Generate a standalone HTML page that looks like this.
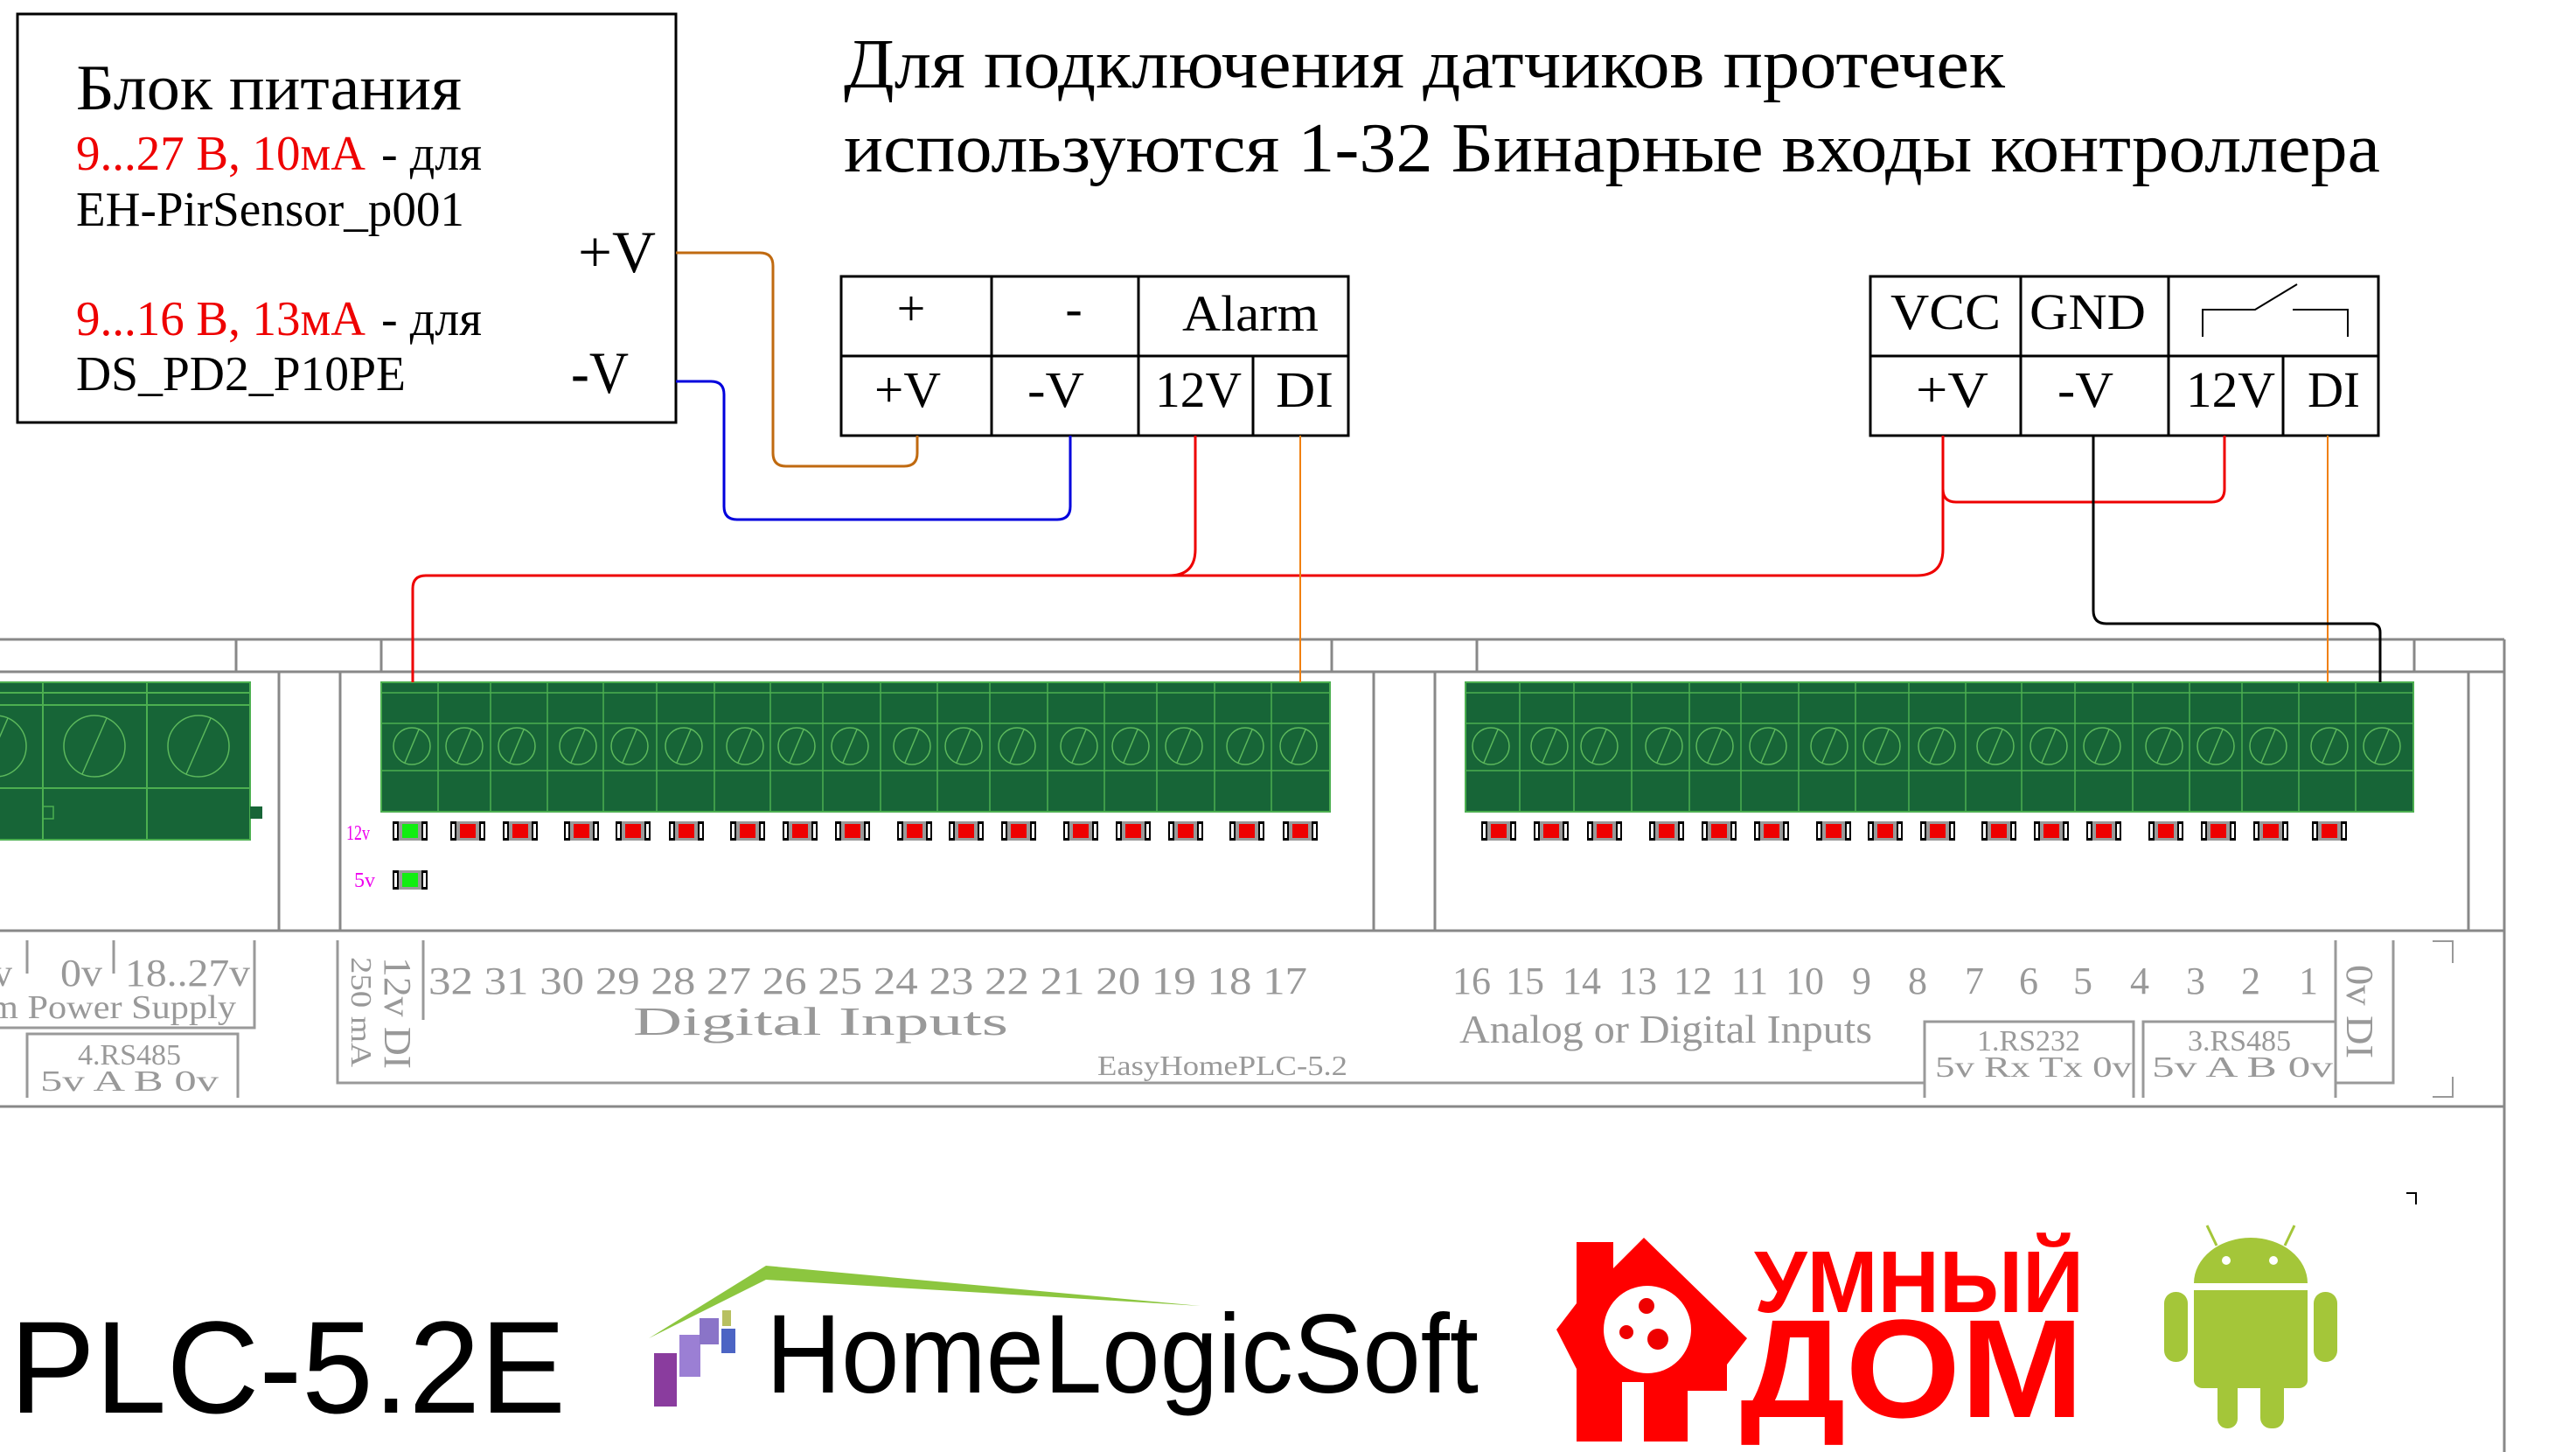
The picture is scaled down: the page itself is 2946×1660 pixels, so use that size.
<!DOCTYPE html>
<html><head><meta charset="utf-8"><style>
html,body{margin:0;padding:0;background:#fff;}
svg{display:block;}
.s{font-family:"Liberation Serif","Noto Serif CJK SC",serif;}
.g{fill:#999;}
</style></head><body>
<svg width="2946" height="1660" viewBox="0 0 2946 1660" xmlns="http://www.w3.org/2000/svg">
<defs>
<g id="scr"><circle r="21" fill="none" stroke="#5cb85c" stroke-width="1.5"/><line x1="-8" y1="19" x2="8" y2="-19" stroke="#5cb85c" stroke-width="1.5"/></g>
<g id="scrL"><circle r="35" fill="none" stroke="#5cb85c" stroke-width="1.5"/><line x1="-14" y1="32" x2="14" y2="-32" stroke="#5cb85c" stroke-width="1.5"/></g>
<g id="led"><rect x="-20" y="-11" width="40" height="22" fill="#999"/><rect x="-20" y="-11" width="7" height="22" fill="#000"/><rect x="-18" y="-8" width="3" height="16" fill="#fff"/><rect x="13" y="-11" width="7" height="22" fill="#000"/><rect x="15" y="-8" width="3" height="16" fill="#fff"/><rect x="-9" y="-8" width="18" height="16" fill="#e00"/></g>
<g id="ledg"><rect x="-20" y="-11" width="40" height="22" fill="#999"/><rect x="-20" y="-11" width="7" height="22" fill="#000"/><rect x="-18" y="-8" width="3" height="16" fill="#fff"/><rect x="13" y="-11" width="7" height="22" fill="#000"/><rect x="15" y="-8" width="3" height="16" fill="#fff"/><rect x="-9" y="-8" width="18" height="16" fill="#1e1"/></g>
</defs>

<!-- Title -->
<text class="s" x="965" y="100" font-size="80" textLength="1328" lengthAdjust="spacingAndGlyphs">Для подключения датчиков протечек</text>
<text class="s" x="965" y="196" font-size="80" textLength="1757" lengthAdjust="spacingAndGlyphs">используются 1-32 Бинарные входы контроллера</text>

<!-- Power box -->
<rect x="20" y="16" width="753" height="467" fill="none" stroke="#000" stroke-width="3"/>
<text class="s" x="87" y="125" font-size="74" textLength="441" lengthAdjust="spacingAndGlyphs">Блок питания</text>
<text class="s" x="87" y="194" font-size="56" fill="#e00" textLength="331" lengthAdjust="spacingAndGlyphs">9...27 В, 10мА</text>
<text class="s" x="436" y="194" font-size="56" textLength="115" lengthAdjust="spacingAndGlyphs">- для</text>
<text class="s" x="87" y="258" font-size="56" textLength="444" lengthAdjust="spacingAndGlyphs">EH-PirSensor_p001</text>
<text class="s" x="661" y="311" font-size="68" textLength="89" lengthAdjust="spacingAndGlyphs">+V</text>
<text class="s" x="87" y="383" font-size="56" fill="#e00" textLength="331" lengthAdjust="spacingAndGlyphs">9...16 В, 13мА</text>
<text class="s" x="436" y="383" font-size="56" textLength="115" lengthAdjust="spacingAndGlyphs">- для</text>
<text class="s" x="87" y="446" font-size="56" textLength="377" lengthAdjust="spacingAndGlyphs">DS_PD2_P10PE</text>
<text class="s" x="653" y="449" font-size="68" textLength="66" lengthAdjust="spacingAndGlyphs">-V</text>

<!-- Alarm table -->
<g fill="none" stroke="#000" stroke-width="3">
<rect x="962" y="316" width="580" height="182"/>
<line x1="962" y1="407" x2="1542" y2="407"/>
<line x1="1134" y1="316" x2="1134" y2="498"/>
<line x1="1302" y1="316" x2="1302" y2="498"/>
<line x1="1433" y1="407" x2="1433" y2="498"/>
<rect x="2139" y="316" width="581" height="182"/>
<line x1="2139" y1="407" x2="2720" y2="407"/>
<line x1="2311" y1="316" x2="2311" y2="498"/>
<line x1="2480" y1="316" x2="2480" y2="498"/>
<line x1="2611" y1="407" x2="2611" y2="498"/>
</g>
<g fill="none" stroke="#000" stroke-width="2">
<polyline points="2519,385 2519,354 2579,354 2627,325"/>
<polyline points="2622,354 2685,354 2685,385"/>
</g>
<g class="s" font-size="58">
<text x="1042" y="372" text-anchor="middle">+</text>
<text x="1228" y="372" text-anchor="middle">-</text>
<text x="1352" y="378" textLength="156" lengthAdjust="spacingAndGlyphs">Alarm</text>
<text x="1000" y="465" textLength="76" lengthAdjust="spacingAndGlyphs">+V</text>
<text x="1175" y="465" textLength="65" lengthAdjust="spacingAndGlyphs">-V</text>
<text x="1321" y="465" textLength="99" lengthAdjust="spacingAndGlyphs">12V</text>
<text x="1459" y="465" textLength="66" lengthAdjust="spacingAndGlyphs">DI</text>
<text x="2162" y="376" textLength="126" lengthAdjust="spacingAndGlyphs">VCC</text>
<text x="2321" y="376" textLength="133" lengthAdjust="spacingAndGlyphs">GND</text>
<text x="2191" y="465" textLength="83" lengthAdjust="spacingAndGlyphs">+V</text>
<text x="2353" y="465" textLength="64" lengthAdjust="spacingAndGlyphs">-V</text>
<text x="2500" y="465" textLength="102" lengthAdjust="spacingAndGlyphs">12V</text>
<text x="2639" y="465" textLength="60" lengthAdjust="spacingAndGlyphs">DI</text>
</g>

<!-- Board outline -->
<g stroke="#888" stroke-width="3" fill="none">
<line x1="0" y1="731" x2="2864" y2="731"/>
<line x1="2864" y1="731" x2="2864" y2="1660"/>
<line x1="0" y1="768" x2="2864" y2="768"/>
<line x1="0" y1="1064" x2="2864" y2="1064"/>
<line x1="0" y1="1265" x2="2864" y2="1265"/>
<line x1="270" y1="731" x2="270" y2="768"/>
<line x1="436" y1="731" x2="436" y2="768"/>
<line x1="1523" y1="731" x2="1523" y2="768"/>
<line x1="1689" y1="731" x2="1689" y2="768"/>
<line x1="2761" y1="731" x2="2761" y2="768"/>
<line x1="319" y1="768" x2="319" y2="1064"/>
<line x1="389" y1="768" x2="389" y2="1064"/>
<line x1="1571" y1="768" x2="1571" y2="1064"/>
<line x1="1641" y1="768" x2="1641" y2="1064"/>
<line x1="2823" y1="768" x2="2823" y2="1064"/>
</g>

<!-- Left green block -->
<rect x="-5" y="780" width="291" height="180" fill="#176537" stroke="#4caf50" stroke-width="2"/>
<rect x="286" y="922" width="14" height="14" fill="#176537"/>
<rect x="49" y="922" width="12" height="14" fill="none" stroke="#4caf50" stroke-width="1.5"/>
<g stroke="#4caf50" stroke-width="2">
<line x1="0" y1="792" x2="286" y2="792"/><line x1="0" y1="806" x2="286" y2="806"/><line x1="0" y1="901" x2="286" y2="901"/>
<line x1="49" y1="780" x2="49" y2="960"/><line x1="168" y1="780" x2="168" y2="960"/>
</g>
<use href="#scrL" x="-5" y="853"/><use href="#scrL" x="108" y="853"/><use href="#scrL" x="227" y="853"/>

<!-- Middle green block -->
<rect x="436" y="780" width="1085" height="148" fill="#176537" stroke="#4caf50" stroke-width="2"/>
<g stroke="#4caf50" stroke-width="1.5">
<line x1="436" y1="792" x2="1521" y2="792"/><line x1="436" y1="827" x2="1521" y2="827"/><line x1="436" y1="881" x2="1521" y2="881"/>
<line x1="501" y1="780" x2="501" y2="928"/><line x1="561" y1="780" x2="561" y2="928"/><line x1="626" y1="780" x2="626" y2="928"/><line x1="690" y1="780" x2="690" y2="928"/><line x1="751" y1="780" x2="751" y2="928"/><line x1="817" y1="780" x2="817" y2="928"/><line x1="881" y1="780" x2="881" y2="928"/><line x1="941" y1="780" x2="941" y2="928"/><line x1="1007" y1="780" x2="1007" y2="928"/><line x1="1072" y1="780" x2="1072" y2="928"/><line x1="1132" y1="780" x2="1132" y2="928"/><line x1="1198" y1="780" x2="1198" y2="928"/><line x1="1263" y1="780" x2="1263" y2="928"/><line x1="1323" y1="780" x2="1323" y2="928"/><line x1="1389" y1="780" x2="1389" y2="928"/><line x1="1454" y1="780" x2="1454" y2="928"/>
</g>
<g>
<use href="#scr" x="471" y="853"/><use href="#scr" x="531" y="853"/><use href="#scr" x="591" y="853"/><use href="#scr" x="661" y="853"/><use href="#scr" x="720" y="853"/><use href="#scr" x="782" y="853"/><use href="#scr" x="852" y="853"/><use href="#scr" x="911" y="853"/><use href="#scr" x="972" y="853"/><use href="#scr" x="1043" y="853"/><use href="#scr" x="1102" y="853"/><use href="#scr" x="1163" y="853"/><use href="#scr" x="1234" y="853"/><use href="#scr" x="1293" y="853"/><use href="#scr" x="1354" y="853"/><use href="#scr" x="1424" y="853"/><use href="#scr" x="1485" y="853"/>
</g>
<g>
<use href="#ledg" x="469" y="950"/><use href="#led" x="535" y="950"/><use href="#led" x="595" y="950"/><use href="#led" x="665" y="950"/><use href="#led" x="724" y="950"/><use href="#led" x="785" y="950"/><use href="#led" x="855" y="950"/><use href="#led" x="915" y="950"/><use href="#led" x="975" y="950"/><use href="#led" x="1046" y="950"/><use href="#led" x="1105" y="950"/><use href="#led" x="1165" y="950"/><use href="#led" x="1236" y="950"/><use href="#led" x="1296" y="950"/><use href="#led" x="1356" y="950"/><use href="#led" x="1426" y="950"/><use href="#led" x="1487" y="950"/>
<use href="#ledg" x="469" y="1006"/>
</g>
<text class="s" x="396" y="960" font-size="24" fill="#e0e" textLength="27" lengthAdjust="spacingAndGlyphs">12v</text>
<text class="s" x="405" y="1014" font-size="24" fill="#e0e">5v</text>

<!-- Right green block -->
<rect x="1676" y="780" width="1084" height="148" fill="#176537" stroke="#4caf50" stroke-width="2"/>
<g stroke="#4caf50" stroke-width="1.5">
<line x1="1676" y1="792" x2="2760" y2="792"/><line x1="1676" y1="827" x2="2760" y2="827"/><line x1="1676" y1="881" x2="2760" y2="881"/>
<line x1="1738" y1="780" x2="1738" y2="928"/><line x1="1800" y1="780" x2="1800" y2="928"/><line x1="1866" y1="780" x2="1866" y2="928"/><line x1="1932" y1="780" x2="1932" y2="928"/><line x1="1991" y1="780" x2="1991" y2="928"/><line x1="2057" y1="780" x2="2057" y2="928"/><line x1="2122" y1="780" x2="2122" y2="928"/><line x1="2183" y1="780" x2="2183" y2="928"/><line x1="2248" y1="780" x2="2248" y2="928"/><line x1="2312" y1="780" x2="2312" y2="928"/><line x1="2373" y1="780" x2="2373" y2="928"/><line x1="2439" y1="780" x2="2439" y2="928"/><line x1="2504" y1="780" x2="2504" y2="928"/><line x1="2564" y1="780" x2="2564" y2="928"/><line x1="2629" y1="780" x2="2629" y2="928"/><line x1="2694" y1="780" x2="2694" y2="928"/>
</g>
<g>
<use href="#scr" x="1705" y="853"/><use href="#scr" x="1772" y="853"/><use href="#scr" x="1829" y="853"/><use href="#scr" x="1903" y="853"/><use href="#scr" x="1961" y="853"/><use href="#scr" x="2022" y="853"/><use href="#scr" x="2092" y="853"/><use href="#scr" x="2152" y="853"/><use href="#scr" x="2215" y="853"/><use href="#scr" x="2282" y="853"/><use href="#scr" x="2343" y="853"/><use href="#scr" x="2404" y="853"/><use href="#scr" x="2475" y="853"/><use href="#scr" x="2534" y="853"/><use href="#scr" x="2594" y="853"/><use href="#scr" x="2664" y="853"/><use href="#scr" x="2724" y="853"/>
</g>
<g>
<use href="#led" x="1714" y="950"/><use href="#led" x="1774" y="950"/><use href="#led" x="1835" y="950"/><use href="#led" x="1906" y="950"/><use href="#led" x="1966" y="950"/><use href="#led" x="2026" y="950"/><use href="#led" x="2097" y="950"/><use href="#led" x="2156" y="950"/><use href="#led" x="2216" y="950"/><use href="#led" x="2286" y="950"/><use href="#led" x="2346" y="950"/><use href="#led" x="2406" y="950"/><use href="#led" x="2477" y="950"/><use href="#led" x="2537" y="950"/><use href="#led" x="2597" y="950"/><use href="#led" x="2664" y="950"/>
</g>

<!-- Wires -->
<g fill="none" stroke-linejoin="round">
<path d="M773,289 H869 Q884,289 884,304 V518 Q884,533 899,533 H1034 Q1049,533 1049,518 V498" stroke="#c06a10" stroke-width="3"/>
<path d="M773,436 H813 Q828,436 828,451 V579 Q828,594 843,594 H1209 Q1224,594 1224,579 V498" stroke="#0000dd" stroke-width="3"/>
<path d="M1367,498 V628 Q1367,658 1337,658 H487 Q472,658 472,673 V780" stroke="#e00" stroke-width="3"/>
<path d="M2222,498 V628 Q2222,658 2192,658 H1337" stroke="#e00" stroke-width="3"/>
<path d="M2544,498 V559 Q2544,574 2529,574 H2237 Q2222,574 2222,559" stroke="#e00" stroke-width="3"/>
<path d="M1487,498 V780" stroke="#f08010" stroke-width="2"/>
<path d="M2662,498 V780" stroke="#f08010" stroke-width="2"/>
<path d="M2394,498 V698 Q2394,713 2409,713 H2712 Q2722,713 2722,723 V780" stroke="#000" stroke-width="3"/>
</g>

<!-- Label area -->
<g stroke="#999" stroke-width="3" fill="none">
<polyline points="386,1075 386,1238 2201,1238"/>
<line x1="484" y1="1075" x2="484" y2="1166"/>
<polyline points="2201,1255 2201,1168 2440,1168 2440,1255"/>
<polyline points="2451,1255 2451,1168 2671,1168 2671,1255"/>
<line x1="2671" y1="1075" x2="2671" y2="1255"/>
<polyline points="2737,1075 2737,1238 2671,1238"/>
<line x1="31" y1="1075" x2="31" y2="1113"/>
<line x1="130" y1="1075" x2="130" y2="1113"/>
<polyline points="291,1075 291,1175 0,1175"/>
<polyline points="31,1255 31,1182 272,1182 272,1255"/>
<polyline points="2782,1076 2805,1076 2805,1101" stroke-width="2"/>
<polyline points="2805,1231 2805,1254 2782,1254" stroke-width="2"/>
<polyline points="2752,1364 2763,1364 2763,1377" stroke="#000" stroke-width="2"/>
</g>
<g class="s g">
<text x="-8" y="1127" font-size="44">v</text>
<text x="69" y="1127" font-size="44" textLength="48" lengthAdjust="spacingAndGlyphs">0v</text>
<text x="143" y="1127" font-size="44" textLength="143" lengthAdjust="spacingAndGlyphs">18..27v</text>
<text x="-12" y="1164" font-size="38" textLength="282" lengthAdjust="spacingAndGlyphs">m Power Supply</text>
<text x="148" y="1217" font-size="34" text-anchor="middle">4.RS485</text>
<text x="46" y="1247" font-size="34" textLength="204" lengthAdjust="spacingAndGlyphs">5v  A  B  0v</text>
<text transform="translate(440,1094) rotate(90)" font-size="44" textLength="128" lengthAdjust="spacingAndGlyphs">12v DI</text>
<text transform="translate(402,1094) rotate(90)" font-size="34" textLength="126" lengthAdjust="spacingAndGlyphs">250 mA</text>
<text x="490" y="1136" font-size="44" textLength="1005" lengthAdjust="spacingAndGlyphs">32 31 30 29 28 27 26 25 24 23 22 21 20 19 18 17</text>
<text x="724" y="1183" font-size="46" textLength="429" lengthAdjust="spacingAndGlyphs">Digital  Inputs</text>
<text x="1255" y="1229" font-size="32" textLength="286" lengthAdjust="spacingAndGlyphs">EasyHomePLC-5.2</text>
<g font-size="44" text-anchor="middle">
<text x="1683" y="1136">16</text><text x="1744" y="1136">15</text><text x="1809" y="1136">14</text><text x="1873" y="1136">13</text><text x="1936" y="1136">12</text><text x="2001" y="1136">11</text><text x="2064" y="1136">10</text><text x="2129" y="1136">9</text><text x="2193" y="1136">8</text><text x="2258" y="1136">7</text><text x="2320" y="1136">6</text><text x="2382" y="1136">5</text><text x="2447" y="1136">4</text><text x="2511" y="1136">3</text><text x="2574" y="1136">2</text><text x="2640" y="1136">1</text>
</g>
<text x="1669" y="1192" font-size="46" textLength="472" lengthAdjust="spacingAndGlyphs">Analog or Digital Inputs</text>
<text x="2320" y="1201" font-size="34" text-anchor="middle">1.RS232</text>
<text x="2213" y="1231" font-size="34" textLength="225" lengthAdjust="spacingAndGlyphs">5v Rx Tx 0v</text>
<text x="2561" y="1201" font-size="34" text-anchor="middle">3.RS485</text>
<text x="2461" y="1231" font-size="34" textLength="207" lengthAdjust="spacingAndGlyphs">5v  A  B  0v</text>
<text transform="translate(2684,1103) rotate(90)" font-size="44" textLength="107" lengthAdjust="spacingAndGlyphs">0v DI</text>
</g>

<!-- Bottom logos -->
<text x="11" y="1615" font-family="Liberation Sans, sans-serif" font-size="150" textLength="636" lengthAdjust="spacingAndGlyphs">PLC-5.2E</text>

<polygon points="742,1530 876,1447 1373,1493 876,1463" fill="#8cc63f"/>
<rect x="748" y="1547" width="26" height="61" fill="#8a3c9e"/>
<rect x="777" y="1526" width="24" height="48" fill="#9b7fd4"/>
<rect x="800" y="1507" width="22" height="30" fill="#8a74c8"/>
<rect x="825" y="1519" width="16" height="28" fill="#4c64c4"/>
<rect x="826" y="1498" width="10" height="18" fill="#b8c060"/>
<text x="876" y="1592" font-family="Liberation Sans, sans-serif" font-size="128" textLength="815" lengthAdjust="spacingAndGlyphs">HomeLogicSoft</text>

<!-- Umny dom -->
<polygon points="1803,1648 1803,1420 1845,1420 1845,1450 1880,1415 1998,1530 1975,1560 1975,1590 1930,1590 1930,1648 1880,1648 1880,1580 1855,1580 1855,1648" fill="#f00"/>
<polygon points="1780,1520 1803,1490 1803,1565" fill="#f00"/>
<circle cx="1884" cy="1520" r="50" fill="#fff"/>
<circle cx="1883" cy="1493" r="9" fill="#e00"/>
<circle cx="1860" cy="1523" r="8" fill="#e00"/>
<circle cx="1896" cy="1531" r="12" fill="#e00"/>
<text x="2006" y="1500" font-family="Liberation Sans, sans-serif" font-weight="bold" font-size="100" fill="#f00" textLength="377" lengthAdjust="spacingAndGlyphs">УМНЫЙ</text>
<text x="1990" y="1620" font-family="Liberation Sans, sans-serif" font-weight="bold" font-size="160" fill="#f00" textLength="393" lengthAdjust="spacingAndGlyphs">ДОМ</text>

<!-- Android -->
<g fill="#a4c639">
<path d="M2509,1467 A65,52 0 0 1 2639,1467 Z"/>
<rect x="2509" y="1475" width="130" height="104" rx="0"/>
<rect x="2509" y="1570" width="130" height="17" rx="10"/>
<rect x="2475" y="1477" width="27" height="80" rx="13"/>
<rect x="2646" y="1477" width="27" height="80" rx="13"/>
<rect x="2536" y="1575" width="23" height="58" rx="11"/>
<rect x="2585" y="1575" width="27" height="58" rx="12"/>
<line x1="2535" y1="1424" x2="2524" y2="1401" stroke="#a4c639" stroke-width="3"/>
<line x1="2613" y1="1424" x2="2624" y2="1401" stroke="#a4c639" stroke-width="3"/>
</g>
<circle cx="2546" cy="1441" r="5" fill="#fff"/>
<circle cx="2600" cy="1441" r="5" fill="#fff"/>
</svg>
</body></html>
